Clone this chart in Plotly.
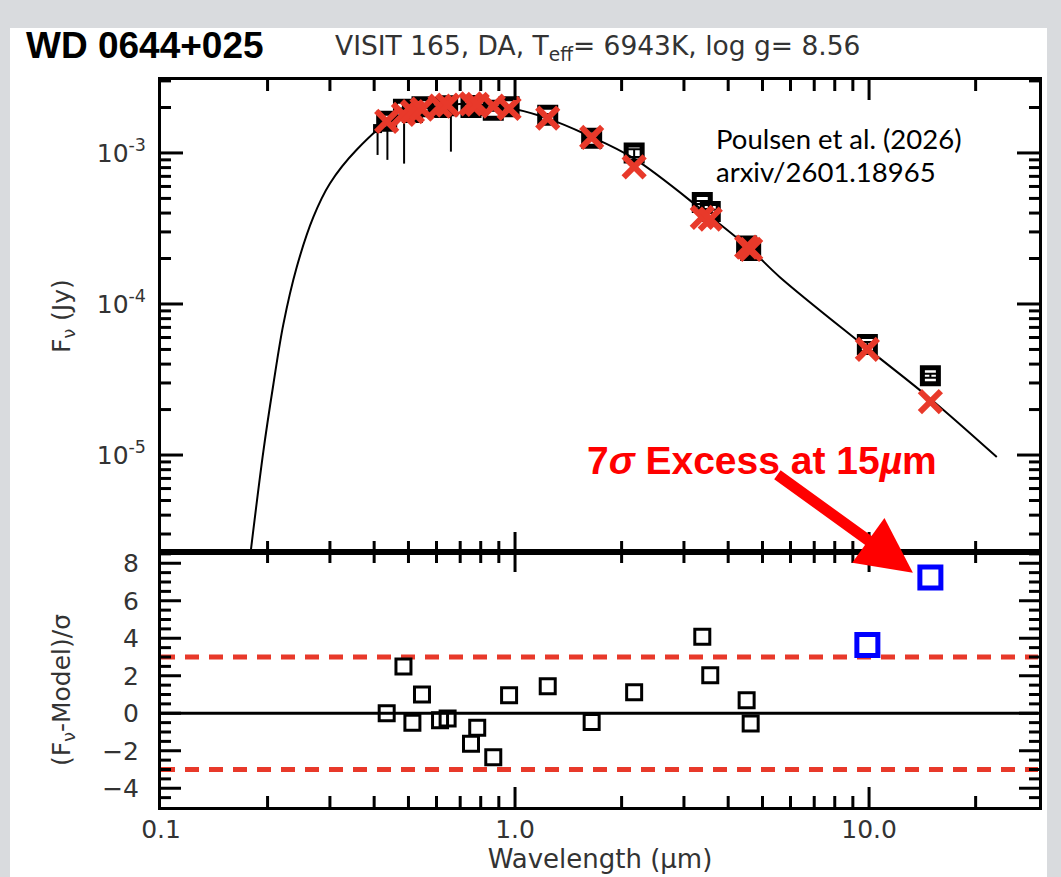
import plotly.graph_objects as go
import numpy as np

# ---------------- data ----------------
# model SED curve
model_wl = [0.177, 0.1945, 0.2076, 0.2216, 0.2417, 0.2693, 0.300, 0.357, 0.453, 0.563,
            0.699, 0.868, 1.011, 1.229, 1.594, 2.159, 3.479, 4.61, 5.61, 9.85, 14.86, 22.95]
model_flux = [1.8e-6, 1.05e-5, 2.92e-5, 7.33e-5, 1.75e-4, 3.76e-4, 6.28e-4, 1.05e-3, 1.70e-3, 1.99e-3,
              2.11e-3, 2.04e-3, 1.94e-3, 1.70e-3, 1.32e-3, 9.23e-4, 3.96e-4, 2.32e-4, 1.50e-4, 5.12e-5, 2.37e-5, 9.7e-6]

# photometry
phot_wl = [0.434, 0.484, 0.513, 0.546, 0.614, 0.645, 0.751, 0.782, 0.868, 0.962,
           1.237, 1.646, 2.17, 3.38, 3.56, 4.51, 4.63, 9.89, 14.9]
phot_obs = [1.62e-3, 1.95e-3, 1.85e-3, 2.02e-3, 2.00e-3, 2.05e-3, 2.00e-3, 2.06e-3, 1.92e-3, 2.02e-3,
            1.78e-3, 1.25e-3, 1.00e-3, 4.7e-4, 4.1e-4, 2.42e-4, 2.26e-4, 5.4e-5, 3.35e-5]
phot_err = [2e-5, 2e-5, 2e-5, 2e-5, 2e-5, 2e-5, 2e-5, 2e-5, 2e-5, 2e-5,
            3e-5, 2e-5, 6e-5, 1e-5, 1e-5, 5e-6, 5e-6, 2e-6, 1e-6]
phot_model = [1.62e-3, 1.80e-3, 1.88e-3, 1.95e-3, 2.04e-3, 2.07e-3, 2.11e-3, 2.10e-3, 2.04e-3, 1.97e-3,
              1.70e-3, 1.27e-3, 8.1e-4, 3.75e-4, 3.65e-4, 2.38e-4, 2.30e-4, 5.0e-5, 2.26e-5]

# low-weight points with large lower error bars
extra_wl = [0.409, 0.436, 0.486, 0.659]
extra_obs = [1.45e-3, 1.60e-3, 1.85e-3, 2.05e-3]
extra_errminus = [4.8e-4, 7.0e-4, 1.0e-3, 1.03e-3]

# residuals
res_wl = [0.434, 0.484, 0.513, 0.546, 0.614, 0.645, 0.751, 0.782, 0.868, 0.962,
          1.237, 1.646, 2.17, 3.38, 3.56, 4.51, 4.63]
res_val = [0.0, 2.5, -0.5, 1.0, -0.37, -0.28, -1.62, -0.77, -2.34, 0.96,
           1.44, -0.46, 1.12, 4.08, 2.03, 0.7, -0.55]
exc_wl = [9.89, 14.9]
exc_val = [3.64, 7.24]

sigma_levels = [-3, 3]

x_major = [0.1, 1.0, 10.0]
x_major_text = ["0.1", "1.0", "10.0"]
x_minor = [0.2, 0.3, 0.4, 0.5, 0.6, 0.7, 0.8, 0.9, 2, 3, 4, 5, 6, 7, 8, 9, 20]
y1_major = [1e-5, 1e-4, 1e-3]
y1_major_text = ["10<sup>-5</sup>", "10<sup>-4</sup>", "10<sup>-3</sup>"]
y1_minor = [m * 10.0 ** e for e in (-6, -5, -4, -3) for m in range(2, 10)]
y2_major = [-4, -2, 0, 2, 4, 6, 8]
y2_minor = [v / 2 for v in range(-9, 18) if v % 4 != 0]

# ---------------- figure ----------------
W, H = 1061, 877
L, R, T, B = 161, 22, 80, 70
ph = H - T - B
pw = W - L - R
split = 255 / ph
XR = [-1, 1.48]
Y1R = [-5.642, -2.517]
Y2R = [-5.0, 8.6]
ph1 = ph * (1 - split)
ph2 = ph * split

RED = "#E8392A"
TXT = "#333333"
FONT = "DejaVu Sans"
BG = "#d9dbde"

fig = go.Figure()

fig.add_trace(go.Scatter(x=model_wl, y=model_flux, mode="lines", line=dict(color="black", width=2, shape="spline"),
                         xaxis="x", yaxis="y", showlegend=False))
fig.add_trace(go.Scatter(x=extra_wl, y=extra_obs, mode="markers",
                         marker=dict(symbol="square", size=9, color="black"),
                         error_y=dict(type="data", symmetric=False, array=[0] * len(extra_wl),
                                      arrayminus=extra_errminus, color="black", thickness=2, width=0),
                         xaxis="x", yaxis="y", showlegend=False))
fig.add_trace(go.Scatter(x=phot_wl, y=phot_obs, mode="markers",
                         marker=dict(symbol="square-open", size=16, color="black", line=dict(width=5, color="black")),
                         error_y=dict(type="data", array=phot_err, color="black", thickness=2, width=7),
                         xaxis="x", yaxis="y", showlegend=False))
fig.add_trace(go.Scatter(x=phot_wl, y=phot_model, mode="markers",
                         marker=dict(symbol="x-thin-open", size=21, color=RED, line=dict(width=6, color=RED)),
                         xaxis="x", yaxis="y", showlegend=False))

fig.add_trace(go.Scatter(x=[0.1, 30], y=[0, 0], mode="lines", line=dict(color="black", width=3),
                         xaxis="x2", yaxis="y2", showlegend=False))
for s in sigma_levels:
    fig.add_trace(go.Scatter(x=[0.1, 30], y=[s, s], mode="lines", line=dict(color=RED, width=5, dash="14px,10px"),
                             xaxis="x2", yaxis="y2", showlegend=False))
fig.add_trace(go.Scatter(x=res_wl, y=res_val, mode="markers",
                         marker=dict(symbol="square-open", size=15, color="black", line=dict(width=3, color="black")),
                         xaxis="x2", yaxis="y2", showlegend=False))
fig.add_trace(go.Scatter(x=exc_wl, y=exc_val, mode="markers",
                         marker=dict(symbol="square-open", size=21, color="#0000FF", line=dict(width=5, color="#0000FF")),
                         xaxis="x2", yaxis="y2", showlegend=False))

# ---- inward tick marks (lengths given in pixels, converted through the axis ranges) ----
dx = (XR[1] - XR[0]) / pw       # decades per pixel along x
dy1 = (Y1R[1] - Y1R[0]) / ph1   # decades per pixel, top panel
dy2 = (Y2R[1] - Y2R[0]) / ph2   # units per pixel, bottom panel

def x_tick_trace(vals, length, ylo, yhi, ystep, ylog, xa, ya):
    xs, ys = [], []
    for v in vals:
        for base, sgn in ((ylo, 1), (yhi, -1)):
            a, b = base, base + sgn * length * ystep
            if ylog:
                a, b = 10 ** a, 10 ** b
            xs += [v, v, None]
            ys += [a, b, None]
    return go.Scatter(x=xs, y=ys, mode="lines", line=dict(color="black", width=3), xaxis=xa, yaxis=ya,
                      showlegend=False, hoverinfo="skip")

def y_tick_trace(vals, length, xa, ya):
    xs, ys = [], []
    for v in vals:
        for base, sgn in ((XR[0], 1), (XR[1], -1)):
            xs += [10 ** base, 10 ** (base + sgn * length * dx), None]
            ys += [v, v, None]
    return go.Scatter(x=xs, y=ys, mode="lines", line=dict(color="black", width=3), xaxis=xa, yaxis=ya,
                      showlegend=False, hoverinfo="skip")

x_maj_inner = [v for v in x_major if v > 0.1]
fig.add_trace(x_tick_trace(x_maj_inner, 20, Y1R[0], Y1R[1], dy1, True, "x", "y"))
fig.add_trace(x_tick_trace(x_minor, 11, Y1R[0], Y1R[1], dy1, True, "x", "y"))
fig.add_trace(x_tick_trace(x_maj_inner, 20, Y2R[0], Y2R[1], dy2, False, "x2", "y2"))
fig.add_trace(x_tick_trace(x_minor, 11, Y2R[0], Y2R[1], dy2, False, "x2", "y2"))
fig.add_trace(y_tick_trace(y1_major, 22, "x", "y"))
fig.add_trace(y_tick_trace(y1_minor, 10, "x", "y"))
fig.add_trace(y_tick_trace(y2_major, 20, "x2", "y2"))
fig.add_trace(y_tick_trace(y2_minor, 10, "x2", "y2"))

frame = dict(showline=True, linecolor="black", linewidth=3, mirror=True, ticks="",
             showgrid=False, zeroline=False, automargin=False)

fig.update_layout(
    width=W, height=H,
    margin=dict(l=L, r=R, t=T, b=B, pad=0),
    paper_bgcolor="white", plot_bgcolor="white",
    font=dict(family=FONT, size=25, color=TXT),
    hovermode=False,
    xaxis=dict(**frame, type="log", range=XR, tickvals=x_major, ticktext=x_major_text,
               domain=[0, 1], anchor="y", showticklabels=False),
    yaxis=dict(**frame, type="log", range=Y1R, domain=[split, 1], anchor="x",
               tickvals=y1_major, ticktext=y1_major_text, ticklabelstandoff=7),
    xaxis2=dict(**frame, type="log", range=XR, tickvals=x_major, ticktext=x_major_text,
                domain=[0, 1], anchor="y2", ticklabelstandoff=-2,
                title=dict(text="Wavelength (\u00b5m)", font=dict(family=FONT, size=26, color=TXT), standoff=4)),
    yaxis2=dict(**frame, range=Y2R, domain=[0, split], anchor="x2",
                tickvals=y2_major, ticklabelstandoff=14),
)

def px_x(p):
    return (p - L) / pw

def px_y(p):
    return (H - B - p) / ph

for (xa, xb, ya, yb) in [(0, W, 0, 28), (0, 10, 0, H), (1047, W, 0, H)]:
    fig.add_shape(type="rect", xref="paper", yref="paper", x0=px_x(xa), x1=px_x(xb), y0=px_y(yb), y1=px_y(ya),
                  fillcolor=BG, line=dict(width=0), layer="above")

ann = []
ann.append(dict(text="<b>WD 0644+025</b>", x=px_x(24), y=px_y(45), xanchor="left", yanchor="middle",
                font=dict(family="Liberation Sans", size=37, color="black")))
ann.append(dict(text="VISIT 165, DA, T<sub>eff</sub>= 6943K, log g= 8.56", x=px_x(333), y=px_y(47),
                xanchor="left", yanchor="middle", font=dict(family=FONT, size=26.5, color=TXT)))
ann.append(dict(text="Poulsen et al. (2026)", x=px_x(714), y=px_y(138), xanchor="left", yanchor="middle",
                font=dict(family="Lato", size=27.5, color="black")))
ann.append(dict(text="arxiv/2601.18965", x=px_x(714), y=px_y(172), xanchor="left", yanchor="middle",
                font=dict(family="Lato", size=27.5, color="black")))
ann.append(dict(text="<b>7<i>\u03c3</i> Excess at 15<i>\u00b5</i>m</b>", x=px_x(762), y=px_y(461),
                xanchor="center", yanchor="middle", font=dict(family="Liberation Sans", size=39, color="#FF0000")))
ann.append(dict(text="F<sub>\u03bd</sub> (Jy)", x=px_x(63), y=px_y(316), textangle=-90,
                xanchor="center", yanchor="middle", font=dict(family=FONT, size=25, color=TXT)))
ann.append(dict(text="(F<sub>\u03bd</sub>-Model)/\u03c3", x=px_x(63), y=px_y(690), textangle=-90,
                xanchor="center", yanchor="middle", font=dict(family=FONT, size=25, color=TXT)))
for a in ann:
    a.update(xref="paper", yref="paper", showarrow=False)
    fig.add_annotation(**a)

fig.add_annotation(x=np.log10(13.3), y=7.5, xref="x2", yref="y2", ax=-137, ay=-99, text="",
                   showarrow=True, arrowhead=2, arrowsize=1.0, arrowwidth=11, arrowcolor="#FF0000")

fig.write_html("out.html")
